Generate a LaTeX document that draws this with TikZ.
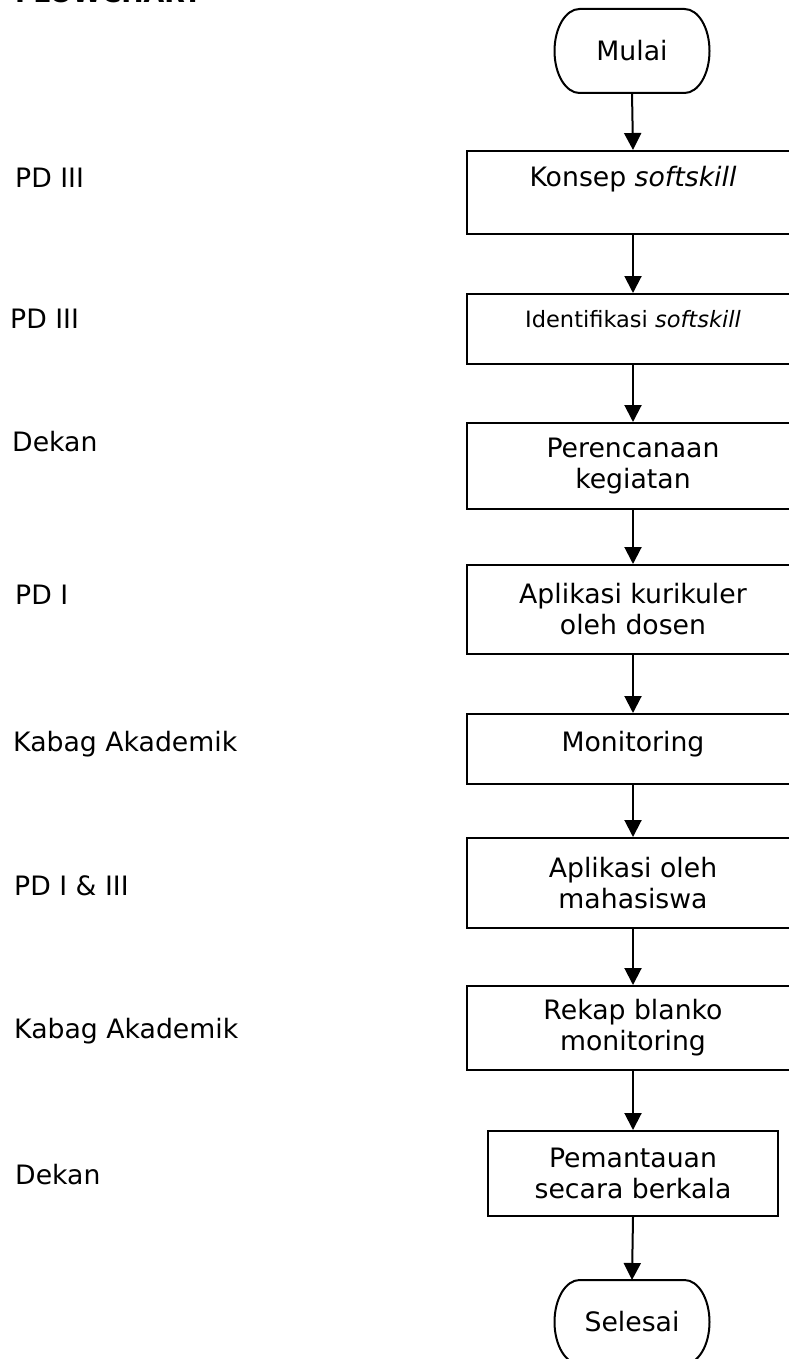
\documentclass[tikz,border=0pt]{standalone}
\usepackage{fontspec}
\setmainfont{DejaVu Sans}
\usetikzlibrary{arrows.meta}
\newcommand\myterm[1]{\draw[line width=2pt] ([xshift=25pt]#1.north west) -- ([xshift=-25pt]#1.north east) arc[start angle=90,end angle=-90,x radius=25pt,y radius=42pt] -- ([xshift=25pt]#1.south west) arc[start angle=270,end angle=90,x radius=25pt,y radius=42pt] -- cycle;}
\begin{document}
\begin{tikzpicture}[x=1pt,y=-1pt,
  every node/.style={font=\fontsize{26.7}{31}\selectfont, inner sep=0pt},
  box/.style={draw, line width=2pt, rectangle, minimum width=332pt, align=center, anchor=north west},
  lbl/.style={anchor=base west},
  flow/.style={-{Triangle[length=17pt,width=17pt]}, line width=2pt},
  term/.style={minimum width=155pt, minimum height=84pt, outer sep=0pt}
]
\useasboundingbox (0,0) rectangle (789,1359);

% title (cut off at the top, as in the reference)
\node[anchor=base west, font=\bfseries\fontsize{26.7}{31}\selectfont] (title) at (15,3) {FLOWCHART};

% terminals
\node[term] (start) at (632,51) {Mulai};
\myterm{start}
\node[term] (stop) at (632,1322) {Selesai};
\myterm{stop}

% process boxes
\node[box, minimum height=83pt, text height=20pt, text depth=32pt] (konsep) at (466,150) {Konsep \textit{softskill}};
\node[box, minimum height=70pt, font=\fontsize{22.5}{26}\selectfont, text height=17pt, text depth=21pt] (ident) at (466,293) {Identifikasi \textit{softskill}};
\node[box, minimum height=86pt] (renc) at (466,422) {Perencanaan\\kegiatan};
\node[box, minimum height=89pt] (kurik) at (466,564) {Aplikasi kurikuler\\oleh dosen};
\node[box, minimum height=70pt, text height=20pt, text depth=16pt] (monit) at (466,713) {Monitoring};
\node[box, minimum height=90pt] (mhs) at (466,837) {Aplikasi oleh\\mahasiswa};
\node[box, minimum height=84pt] (rekap) at (466,985) {Rekap blanko\\monitoring};
\node[box, minimum width=290pt, minimum height=85pt] (pantau) at (487,1130) {Pemantauan\\secara berkala};

% connectors
\draw[flow] (start.south) -- (konsep.north);
\draw[flow] (konsep.south) -- (ident.north);
\draw[flow] (ident.south) -- (renc.north);
\draw[flow] (renc.south) -- (kurik.north);
\draw[flow] (kurik.south) -- (monit.north);
\draw[flow] (monit.south) -- (mhs.north);
\draw[flow] (mhs.south) -- (rekap.north);
\draw[flow] (rekap.south) -- (pantau.north);
\draw[flow] (pantau.south) -- (stop.north);

% responsible parties
\node[lbl] (r1) at (15,187) {PD III};
\node[lbl] (r2) at (10,328) {PD III};
\node[lbl] (r3) at (12,451) {Dekan};
\node[lbl] (r4) at (15,604) {PD I};
\node[lbl] (r5) at (13,751) {Kabag Akademik};
\node[lbl] (r6) at (14,895) {PD I \& III};
\node[lbl] (r7) at (14,1038) {Kabag Akademik};
\node[lbl] (r8) at (15,1184) {Dekan};
\end{tikzpicture}
\end{document}
